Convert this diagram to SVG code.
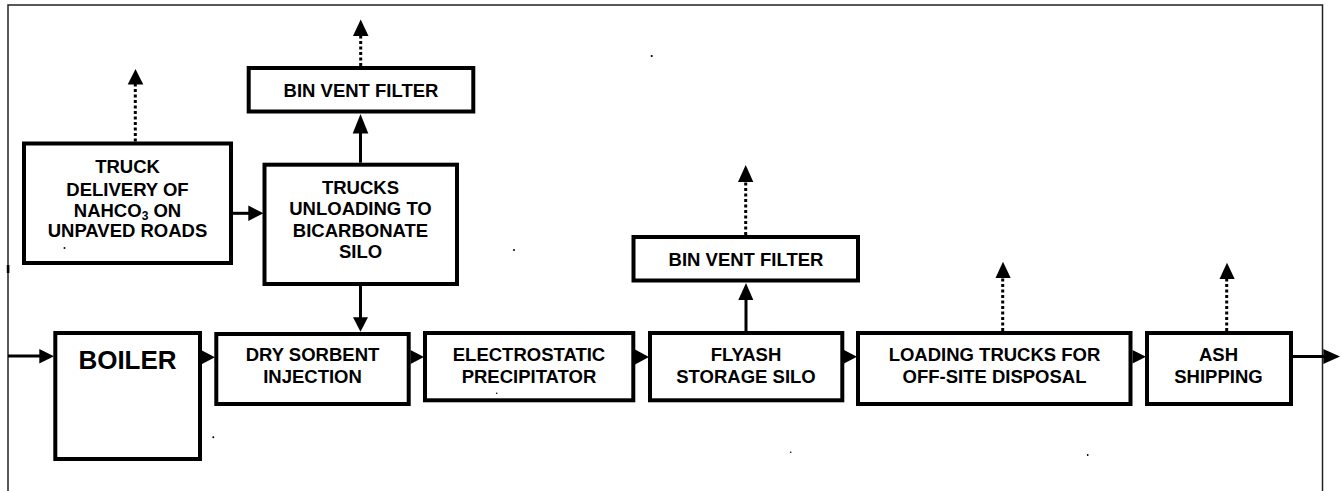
<svg xmlns="http://www.w3.org/2000/svg" width="1342" height="491" viewBox="0 0 1342 491">
<style>
.box{fill:#fff;stroke:#000;stroke-width:4}
.t{font-family:"Liberation Sans",Arial,sans-serif;font-weight:bold;font-size:18.5px;fill:#000;text-anchor:middle}
.big{font-size:26px}
.ln{stroke:#000;stroke-width:3;fill:none}
.dot{stroke:#000;stroke-width:3;fill:none;stroke-dasharray:3 2.5}
.ah{fill:#000}
.frame{stroke:#222;stroke-width:1.5;fill:none}
.speck{fill:#000}
</style>
<rect width="1342" height="491" fill="#fff"/>
<g id="frame">
<path class="frame" d="M8,491 V5 H1322.5 V491"/>
<rect x="6.8" y="265" width="2.6" height="8" fill="#000"/>
</g>
<g id="truck-delivery">
<rect class="box" x="24" y="143.5" width="207" height="119.5"/>
<text class="t" x="127.5" y="173">TRUCK</text>
<text class="t" x="127.5" y="195.5">DELIVERY OF</text>
<text class="t" x="127.5" y="216.5">NAHCO<tspan font-size="12" dy="3">3</tspan><tspan dy="-3"> ON</tspan></text>
<text class="t" x="127.5" y="237">UNPAVED ROADS</text>
</g>
<g id="trucks-unloading">
<rect class="box" x="264.5" y="164.7" width="192.5" height="119.3"/>
<text class="t" x="360.5" y="194">TRUCKS</text>
<text class="t" x="360.5" y="215.3">UNLOADING TO</text>
<text class="t" x="360.5" y="236.7">BICARBONATE</text>
<text class="t" x="360.5" y="258">SILO</text>
</g>
<g id="bin-vent-filter-1">
<rect class="box" x="248.7" y="68" width="224.6" height="43.5"/>
<text class="t" x="361" y="96.7">BIN VENT FILTER</text>
</g>
<g id="boiler">
<rect class="box" x="55.3" y="333" width="144.7" height="126"/>
<text class="t big" x="127.5" y="369.3">BOILER</text>
</g>
<g id="dry-sorbent">
<rect class="box" x="216.3" y="334" width="192.4" height="70"/>
<text class="t" x="312.5" y="360.7">DRY SORBENT</text>
<text class="t" x="312.5" y="383.3">INJECTION</text>
</g>
<g id="esp">
<rect class="box" x="425" y="333" width="208.3" height="67.3"/>
<text class="t" x="529" y="360.7">ELECTROSTATIC</text>
<text class="t" x="529" y="383.3">PRECIPITATOR</text>
</g>
<g id="flyash-silo">
<rect class="box" x="650" y="333" width="192.3" height="67.3"/>
<text class="t" x="746" y="360.7">FLYASH</text>
<text class="t" x="746" y="383.3">STORAGE SILO</text>
</g>
<g id="bin-vent-filter-2">
<rect class="box" x="633.5" y="237" width="224.5" height="43.5"/>
<text class="t" x="746" y="265.5">BIN VENT FILTER</text>
</g>
<g id="loading-trucks">
<rect class="box" x="858" y="333" width="272.5" height="71"/>
<text class="t" x="994.5" y="360.7">LOADING TRUCKS FOR</text>
<text class="t" x="994.5" y="383">OFF-SITE DISPOSAL</text>
</g>
<g id="ash-shipping">
<rect class="box" x="1147" y="333" width="144" height="71"/>
<text class="t" x="1218.5" y="360.7">ASH</text>
<text class="t" x="1218.5" y="383.3">SHIPPING</text>
</g>
<g id="connectors">
<!-- input -->
<line class="ln" x1="8" y1="356" x2="41" y2="356" stroke-width="2.5"/>
<polygon class="ah" points="39.3,349 39.3,363.5 54,356.2"/>
<!-- main row arrows -->
<polygon class="ah" points="202,350.5 202,364 215,357.2"/>
<polygon class="ah" points="410.5,350 410.5,364 424,357"/>
<polygon class="ah" points="635,349.5 635,364.5 649,357"/>
<polygon class="ah" points="844,350 844,363.5 857,356.7"/>
<polygon class="ah" points="1132.5,350 1132.5,363.5 1146,356.7"/>
<!-- output -->
<line class="ln" x1="1293" y1="356.5" x2="1325" y2="356.5" stroke-width="2.5"/>
<polygon class="ah" points="1323.3,349 1323.3,364 1340,356.5"/>
<!-- truck delivery to unloading -->
<line class="ln" x1="233" y1="213.3" x2="250" y2="213.3"/>
<polygon class="ah" points="248.3,205.5 248.3,221 263.5,213.3"/>
<!-- unloading to dry sorbent -->
<line class="ln" x1="360.5" y1="286" x2="360.5" y2="319"/>
<polygon class="ah" points="353,317.3 368,317.3 360.5,331.7"/>
<!-- unloading to bin vent 1 -->
<line class="ln" x1="360.5" y1="162.7" x2="360.5" y2="131"/>
<polygon class="ah" points="352.7,133.5 368.3,133.5 360.5,114"/>
<!-- flyash to bin vent 2 -->
<line class="ln" x1="746" y1="331" x2="746" y2="298"/>
<polygon class="ah" points="738.3,300 753.3,300 746,283"/>
<!-- dotted emission arrows -->
<line class="dot" x1="135.3" y1="141.5" x2="135.3" y2="83"/>
<polygon class="ah" points="127.7,84.5 143.3,84.5 135.5,69"/>
<line class="dot" x1="360.7" y1="66" x2="360.7" y2="35"/>
<polygon class="ah" points="353,36 368.5,36 360.7,19.5"/>
<line class="dot" x1="745.7" y1="235" x2="745.7" y2="181"/>
<polygon class="ah" points="738,182 753.3,182 745.7,165"/>
<line class="dot" x1="1002.7" y1="331" x2="1002.7" y2="277"/>
<polygon class="ah" points="995.5,278 1010.7,278 1003,261.7"/>
<line class="dot" x1="1226.7" y1="331" x2="1226.7" y2="278"/>
<polygon class="ah" points="1219.5,279 1234.7,279 1227,262.7"/>
</g>
<g id="specks">
<circle class="speck" cx="64.5" cy="248" r="1"/>
<circle class="speck" cx="213.3" cy="437.3" r="1"/>
<circle class="speck" cx="514" cy="250" r="1"/>
<circle class="speck" cx="496.7" cy="393.3" r="0.8"/>
<circle class="speck" cx="790.7" cy="452.3" r="0.8"/>
<circle class="speck" cx="1087.7" cy="455" r="0.9"/>
<circle class="speck" cx="651.7" cy="56" r="1.1"/>
</g>
</svg>
